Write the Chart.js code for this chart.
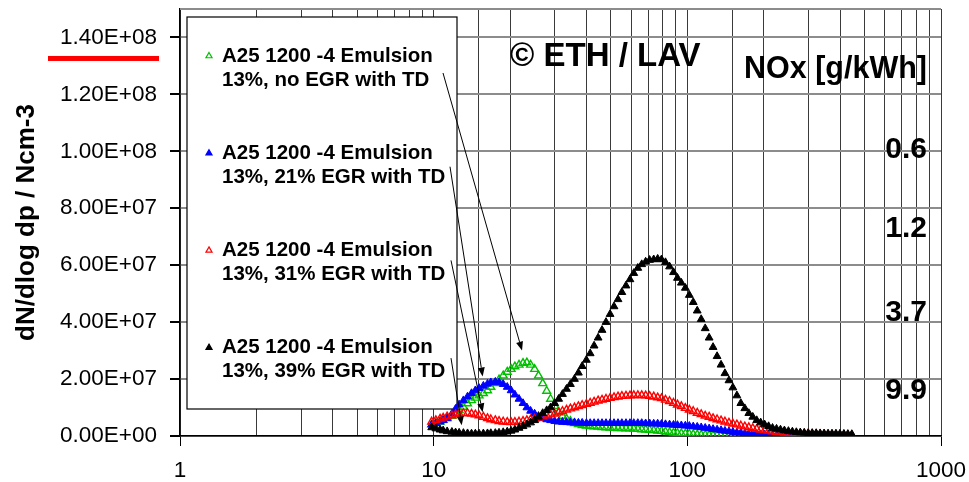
<!DOCTYPE html>
<html>
<head>
<meta charset="utf-8">
<script src="https://cdn.jsdelivr.net/npm/chart.js@4.4.0/dist/chart.umd.min.js"></script>
<style>
  html, body { margin: 0; padding: 0; background: #fff; }
</style>
</head>
<body>
<canvas id="myChart" width="969" height="482"></canvas>
<script>
// particle diameter (nm)
const diameters = [9.82, 10.2, 10.6, 10.9, 11.3, 11.8, 12.2, 12.6, 13.1, 13.6,
  14.1, 14.6, 15.1, 15.7, 16.3, 16.8, 17.5, 18.1, 18.8, 19.5,
  20.2, 20.9, 21.7, 22.5, 23.3, 24.1, 25.0, 25.9, 26.9, 27.9,
  28.9, 30.0, 31.1, 32.2, 33.4, 34.6, 35.9, 37.2, 38.5, 40.0,
  41.4, 42.9, 44.5, 46.1, 47.8, 49.6, 51.4, 53.3, 55.2, 57.3,
  59.4, 61.5, 63.8, 66.1, 68.5, 71.0, 73.7, 76.4, 79.1, 82.0,
  85.1, 88.2, 91.4, 94.7, 98.2, 101.8, 105.5, 109.4, 113.4, 117.6,
  121.9, 126.3, 131.0, 135.8, 140.7, 145.9, 151.2, 156.8, 162.5, 168.5,
  174.7, 181.1, 187.7, 194.6, 201.7, 209.1, 216.7, 224.7, 232.9, 241.4,
  250.3, 259.5, 269.0, 278.8, 289.0, 299.6, 310.6, 322.0, 333.8, 346.0,
  358.7, 371.8, 385.4, 399.5, 414.2, 429.4, 445.1];

// dN/dlog dp in units of 1e7
const noEgr = [0.4, 0.45, 0.5, 0.56, 0.62, 0.7, 0.8, 0.9, 1.02, 1.14,
  1.25, 1.34, 1.42, 1.5, 1.6, 1.72, 1.85, 1.98, 2.12, 2.25,
  2.35, 2.44, 2.5, 2.56, 2.58, 2.5, 2.35, 2.12, 1.85, 1.58,
  1.3, 1.05, 0.85, 0.7, 0.6, 0.52, 0.45, 0.41, 0.38, 0.36,
  0.34, 0.33, 0.32, 0.31, 0.3, 0.29, 0.28, 0.27, 0.27, 0.26,
  0.26, 0.25, 0.24, 0.23, 0.22, 0.21, 0.2, 0.18, 0.17, 0.15,
  0.13, 0.11, 0.1, 0.09, 0.08, 0.07, 0.06, 0.05, 0.04, 0.035,
  0.03, 0.025, 0.02, 0.02, 0.02, 0.015, 0.01, 0.01, 0.01, 0.01,
  0.01, 0.01, 0.01, 0.01, 0.01, 0.01, 0.01, 0.01, 0.01, 0.01,
  0.01, 0.01, 0.01, 0.01, 0.01, 0.01, 0.01, 0.01, 0.01, 0.01,
  0.01, 0.01, 0.01, 0.01, 0.01, 0.01, 0.01];
const egr21 = [0.4, 0.45, 0.5, 0.55, 0.62, 0.78, 0.95, 1.1, 1.25, 1.38,
  1.5, 1.6, 1.68, 1.76, 1.83, 1.88, 1.9, 1.88, 1.82, 1.72,
  1.6, 1.45, 1.3, 1.15, 1.0, 0.88, 0.78, 0.7, 0.62, 0.58,
  0.55, 0.52, 0.5, 0.49, 0.48, 0.47, 0.47, 0.46, 0.46, 0.45,
  0.45, 0.45, 0.45, 0.45, 0.45, 0.45, 0.45, 0.45, 0.45, 0.45,
  0.45, 0.45, 0.45, 0.45, 0.44, 0.44, 0.43, 0.43, 0.42, 0.41,
  0.4, 0.39, 0.38, 0.37, 0.36, 0.35, 0.33, 0.32, 0.3, 0.28,
  0.26, 0.24, 0.22, 0.2, 0.18, 0.16, 0.14, 0.12, 0.11, 0.09,
  0.08, 0.07, 0.06, 0.05, 0.04, 0.035, 0.03, 0.025, 0.02, 0.02,
  0.02, 0.015, 0.01, 0.01, 0.01, 0.01, 0.01, 0.01, 0.01, 0.01,
  0.01, 0.01, 0.01, 0.01, 0.01, 0.01, 0.01];
const egr31 = [0.5, 0.55, 0.6, 0.64, 0.68, 0.72, 0.75, 0.78, 0.8, 0.8,
  0.78, 0.75, 0.72, 0.67, 0.62, 0.58, 0.55, 0.52, 0.5, 0.49,
  0.48, 0.49, 0.5, 0.52, 0.55, 0.57, 0.6, 0.64, 0.68, 0.72,
  0.75, 0.78, 0.82, 0.87, 0.92, 0.96, 1.0, 1.04, 1.08, 1.12,
  1.16, 1.2, 1.24, 1.27, 1.3, 1.33, 1.36, 1.38, 1.4, 1.41,
  1.42, 1.43, 1.43, 1.43, 1.42, 1.4, 1.38, 1.35, 1.32, 1.27,
  1.22, 1.16, 1.1, 1.04, 0.98, 0.92, 0.87, 0.81, 0.76, 0.71,
  0.67, 0.62, 0.58, 0.54, 0.5, 0.46, 0.43, 0.4, 0.36, 0.33,
  0.3, 0.27, 0.24, 0.22, 0.2, 0.18, 0.16, 0.14, 0.13, 0.11,
  0.1, 0.09, 0.08, 0.075, 0.07, 0.065, 0.06, 0.055, 0.05, 0.045,
  0.04, 0.035, 0.03, 0.03, 0.03, 0.025, 0.02];
const egr39 = [0.3, 0.26, 0.22, 0.19, 0.16, 0.14, 0.12, 0.11, 0.1, 0.09,
  0.08, 0.08, 0.08, 0.085, 0.09, 0.095, 0.1, 0.11, 0.13, 0.15,
  0.18, 0.22, 0.28, 0.34, 0.4, 0.47, 0.55, 0.67, 0.8, 0.9,
  1.0, 1.15, 1.3, 1.47, 1.65, 1.82, 2.0, 2.22, 2.45, 2.67,
  2.9, 3.17, 3.45, 3.72, 4.0, 4.28, 4.55, 4.8, 5.05, 5.28,
  5.5, 5.72, 5.9, 6.03, 6.12, 6.18, 6.2, 6.22, 6.2, 6.1,
  5.95, 5.75, 5.55, 5.38, 5.2, 4.95, 4.7, 4.4, 4.1, 3.78,
  3.45, 3.12, 2.8, 2.5, 2.2, 1.95, 1.7, 1.42, 1.15, 0.97,
  0.8, 0.67, 0.55, 0.47, 0.4, 0.34, 0.28, 0.25, 0.22, 0.19,
  0.17, 0.15, 0.13, 0.12, 0.11, 0.1, 0.1, 0.095, 0.09, 0.085,
  0.08, 0.08, 0.08, 0.075, 0.07, 0.065, 0.06];

const seriesNames = [
  'A25 1200 -4 Emulsion\n13%, no EGR with TD',
  'A25 1200 -4 Emulsion\n13%, 21% EGR with TD',
  'A25 1200 -4 Emulsion\n13%, 31% EGR with TD',
  'A25 1200 -4 Emulsion\n13%, 39% EGR with TD'
];
const noxHeader = 'NOx [g/kWh]';
const noxValues = ['0.6', '1.2', '3.7', '9.9'];
const yTickValues = [0, 2e7, 4e7, 6e7, 8e7, 1e8, 1.2e8, 1.4e8];
const xLabelValues = [1, 10, 100, 1000];

const FONT = "'Liberation Sans', Arial, sans-serif";

function sci(v) {
  if (v === 0) return '0.00E+00';
  const e = Math.floor(Math.log10(v) + 1e-9);
  const m = v / Math.pow(10, e);
  return m.toFixed(2) + 'E' + (e < 0 ? '-' : '+') + String(Math.abs(e)).padStart(2, '0');
}
function isDecade(v) {
  return xLabelValues.some(d => Math.abs(v - d) < 1e-6 * d);
}
function pts(arr) {
  return diameters.map((d, i) => ({x: d, y: arr[i] * 1e7}));
}

// arrows from legend entries to the curves (targets in data units)
const arrowTargets = [[22.3, 3.0e7], [15.6, 2.09e7], [15.6, 0.83e7], [12.9, 0.375e7]];
const arrowStarts = [[-14, 17], [-7, 13.5], [-6, 10], [-6, 10.5]];

const decor = {
  id: 'decor',
  beforeDatasetsDraw(chart) {
    const ctx = chart.ctx, a = chart.chartArea;
    const box = {l: a.left + 7, t: a.top + 8, r: a.left + 277, b: a.top + 400};
    chart.$box = box;
    ctx.save();
    ctx.fillStyle = '#fff';
    ctx.fillRect(box.l, box.t, box.r - box.l, box.b - box.t);
    ctx.strokeStyle = '#000';
    ctx.lineWidth = 1.2;
    ctx.strokeRect(box.l, box.t, box.r - box.l, box.b - box.t);
    ctx.font = 'bold 20.5px ' + FONT;
    ctx.textBaseline = 'middle';
    ctx.textAlign = 'left';
    chart.data.datasets.forEach((ds, i) => {
      const y = box.t + 39 + i * 97.2;
      ctx.strokeStyle = ds.borderColor;
      ctx.fillStyle = ds.backgroundColor;
      Chart.helpers.drawPoint(ctx, {pointStyle: 'triangle', radius: 3.5, borderWidth: 1, rotation: 0}, box.l + 22, y);
      ctx.fillStyle = '#000';
      ds.label.split('\n').forEach((line, k) => {
        ctx.fillText(line, box.l + 35, y + k * 24);
      });
    });
    ctx.restore();
  },
  afterDatasetsDraw(chart) {
    const ctx = chart.ctx, a = chart.chartArea, box = chart.$box;
    const xs = chart.scales.x, ys = chart.scales.y;
    ctx.save();
    // top frame line
    ctx.strokeStyle = '#8c8c8c';
    ctx.lineWidth = 2;
    ctx.beginPath();
    ctx.moveTo(a.left, a.top);
    ctx.lineTo(a.right, a.top);
    ctx.stroke();

    // arrows
    ctx.strokeStyle = '#000';
    ctx.fillStyle = '#000';
    ctx.lineWidth = 1;
    arrowTargets.forEach((t, i) => {
      const y0 = box.t + 39 + i * 97.2;
      const sx = box.r + arrowStarts[i][0], sy = y0 + arrowStarts[i][1];
      const tx = xs.getPixelForValue(t[0]), ty = ys.getPixelForValue(t[1]);
      const ang = Math.atan2(ty - sy, tx - sx);
      const hl = 9, hw = 3.5;
      const bx = tx - hl * Math.cos(ang), by = ty - hl * Math.sin(ang);
      ctx.beginPath();
      ctx.moveTo(sx, sy);
      ctx.lineTo(bx, by);
      ctx.stroke();
      ctx.beginPath();
      ctx.moveTo(tx, ty);
      ctx.lineTo(bx + hw * Math.sin(ang), by - hw * Math.cos(ang));
      ctx.lineTo(bx - hw * Math.sin(ang), by + hw * Math.cos(ang));
      ctx.closePath();
      ctx.fill();
    });

    // texts
    ctx.fillStyle = '#000';
    ctx.textBaseline = 'middle';
    ctx.textAlign = 'left';
    ctx.font = 'bold 33px ' + FONT;
    ctx.fillText('\u00A9 ETH / LAV', a.left + 330, a.top + 48);
    ctx.textAlign = 'right';
    ctx.font = 'bold 30.5px ' + FONT;
    ctx.fillText(noxHeader, a.right - 14, a.top + 61);
    ctx.font = 'bold 30px ' + FONT;
    const noxY = [141, 220, 304, 382];
    noxValues.forEach((v, i) => ctx.fillText(v, a.right - 14, a.top + noxY[i]));

    // red underline below the top tick label
    ctx.fillStyle = '#ff0000';
    const uy = ys.getPixelForValue(1.4e8) + 18.5;
    ctx.fillRect(a.left - 132, uy, 111, 5);
    ctx.restore();
  }
};

const ctx = document.getElementById('myChart').getContext('2d');
const colors = ['#00c000', '#0000ff', '#ff0000', '#000000'];
const hollow = [true, false, true, false];
const series = [noEgr, egr21, egr31, egr39];

const chart = new Chart(ctx, {
  type: 'scatter',
  data: {
    datasets: series.map((s, i) => ({
      label: seriesNames[i],
      data: pts(s),
      showLine: false,
      pointStyle: 'triangle',
      pointRadius: 4.5,
      pointBorderWidth: hollow[i] ? 1.4 : 1,
      borderColor: colors[i],
      backgroundColor: hollow[i] ? 'rgba(255,255,255,0)' : colors[i],
      order: 4 - i
    }))
  },
  options: {
    responsive: false,
    animation: false,
    devicePixelRatio: 1,
    layout: {padding: {top: 9, right: 28, left: 0, bottom: 0}},
    plugins: {
      legend: {display: false},
      tooltip: {enabled: false}
    },
    scales: {
      x: {
        type: 'logarithmic',
        position: 'bottom',
        min: 1,
        max: 1000,
        afterFit: (s) => { s.height = 46; s.paddingLeft = 0; s.paddingRight = 0; },
        grid: {
          color: '#3a3a3a',
          lineWidth: 1,
          tickLength: 10,
          tickColor: (c) => (c.tick && isDecade(c.tick.value)) ? '#000' : 'rgba(0,0,0,0)'
        },
        border: {color: '#000', width: 1.5},
        ticks: {
          autoSkip: false,
          maxRotation: 0,
          padding: 11,
          color: '#000',
          font: {family: FONT, size: 22.5},
          callback: (v) => isDecade(v) ? String(Math.round(v)) : ''
        }
      },
      y: {
        type: 'linear',
        min: 0,
        max: 1.5e8,
        afterBuildTicks: (s) => { s.ticks = yTickValues.map(v => ({value: v})); },
        afterFit: (s) => { s.width = 180; s.paddingTop = 0; s.paddingBottom = 0; },
        grid: {color: '#8c8c8c', lineWidth: 2, tickLength: 10, tickColor: '#000'},
        border: {color: '#000', width: 1.5},
        ticks: {
          padding: 13,
          color: '#000',
          font: {family: FONT, size: 22.5},
          callback: (v) => sci(v)
        },
        title: {
          display: true,
          text: 'dN/dlog dp / Ncm-3',
          color: '#000',
          font: {family: FONT, size: 26, weight: 'bold'},
          padding: {top: 11, bottom: 0}
        }
      }
    }
  },
  plugins: [decor]
});
</script>
</body>
</html>
